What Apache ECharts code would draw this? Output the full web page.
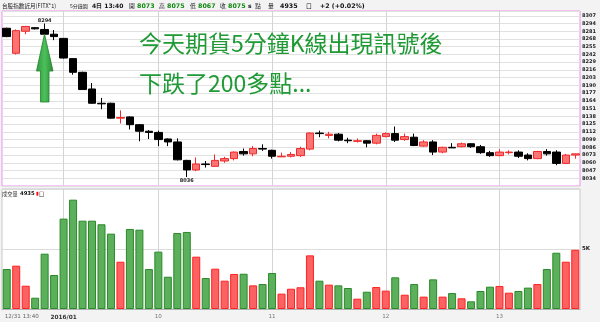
<!DOCTYPE html>
<html><head><meta charset="utf-8">
<script src="https://cdn.jsdelivr.net/npm/echarts@6/dist/echarts.min.js"></script>
<style>html,body{margin:0;padding:0;background:#f3f3f3}#c{width:600px;height:322px}</style>
</head><body><div id="c"></div>
<script>
// OHLC values
const opens  = [8286,8244,8281,8287,8284,8276,8269,8235,8212,8184,8160,8160,8135,8137,8124,8113,8111,8100,8095,8064,8048,8058,8054,8063,8067,8079,8075,8084,8081,8070,8071,8072,8083,8110,8106,8108,8098,8096,8097,8093,8104,8109,8099,8103,8088,8095,8078,8086,8087,8092,8087,8077,8072,8077,8078,8073,8067,8079,8078,8059,8073];
const closes = [8272,8282,8289,8285,8276,8272,8236,8212,8183,8160,8159,8135,8136,8124,8113,8111,8099,8095,8065,8048,8058,8057,8064,8067,8078,8075,8084,8083,8071,8071,8074,8084,8110,8109,8108,8098,8097,8097,8093,8106,8109,8098,8104,8089,8095,8078,8086,8085,8092,8087,8077,8072,8078,8078,8071,8067,8079,8075,8059,8073,8075];
const lows   = [8271,8242,8276,8284,8275,8266,8235,8208,8183,8159,8150,8134,8126,8116,8096,8100,8088,8088,8064,8036,8046,8052,8054,8060,8064,8072,8071,8080,8067,8070,8069,8070,8081,8103,8101,8096,8093,8094,8086,8091,8103,8095,8097,8088,8087,8073,8076,8085,8086,8085,8075,8070,8071,8074,8068,8064,8066,8072,8056,8058,8067];
const highs  = [8287,8284,8290,8288,8294,8283,8269,8236,8213,8194,8169,8161,8148,8138,8125,8115,8114,8101,8101,8065,8069,8063,8074,8070,8079,8084,8088,8091,8082,8077,8078,8087,8111,8114,8112,8110,8102,8101,8098,8109,8111,8121,8109,8109,8098,8098,8087,8093,8094,8093,8090,8080,8083,8081,8081,8076,8080,8083,8081,8075,8075];
const volumes = [3330,3610,1940,940,4610,2830,7530,9110,7360,7360,7060,6280,3940,6670,6610,3330,4780,2690,6330,6420,4360,2580,3360,2360,2920,2940,1970,2080,3000,1280,1690,1810,4470,2360,2030,1970,1750,860,1440,1830,1530,2640,1190,2080,1030,2470,1030,1330,890,640,1500,1860,1920,1360,1500,1780,2080,3330,4690,3940,4935];
const tickIndex = [0,6,16,28,40,52];
const tickText  = ['12/31 13:40','2016/01','10','11','12','13'];
const priceLabels = [8034,8307]; // axis label range (step 13)
const categories = opens.map((_, i) => 'k' + i);

const chart = echarts.init(document.getElementById('c'), null, {renderer:'canvas'});
const NUM = 'DejaVu Sans';
const CJK = '"Noto Sans CJK TC"';
const G = '#118a11';

const tickLabelOf = i => { const p = tickIndex.indexOf(i); return p < 0 ? '' : tickText[p]; };
function txt(x, y, text, size, opt) {
  opt = opt || {};
  return {type:'text', x:x, y:y, silent:true, z:20,
    style:{text:text, fontFamily:opt.font || CJK, fontSize:size, fontWeight:opt.bold ? 'bold' : 'normal',
           fill:opt.color || '#222', verticalAlign:'middle', align:'left'}};
}

chart.setOption({
  animation:false,
  backgroundColor:'#f3f3f3',
  grid:[
    {left:2, right:20, top:11, height:175, show:true, backgroundColor:'#fff', borderColor:'#ef8ef0', borderWidth:1},
    {left:2, right:20, top:189, height:120, show:true, backgroundColor:'#fff', borderColor:'#c8c8c8', borderWidth:1}
  ],
  xAxis:[
    {type:'category', gridIndex:0, data:categories, boundaryGap:true,
     axisLine:{show:false}, axisTick:{show:false}, axisLabel:{show:false}, splitLine:{show:false}},
    {type:'category', gridIndex:1, data:categories, boundaryGap:true,
     axisLine:{show:true, lineStyle:{color:'#b0b0b0'}}, axisTick:{show:false}, splitLine:{show:false},
     axisLabel:{interval:(i) => tickIndex.indexOf(i) >= 0, margin:5, fontFamily:NUM, fontSize:5.6, color:'#777',
       formatter:(v, i) => { const t = tickLabelOf(i); if (i === 0) return '{f|' + t + '}'; if (i === tickIndex[1]) return '{b|' + t + '}'; return t; },
       rich:{f:{padding:[0,0,0,30], fontFamily:NUM, fontSize:5.6, color:'#666'}, b:{fontFamily:NUM, fontSize:5.8, fontWeight:'bold', color:'#333'}}}}
  ],
  yAxis:[
    {type:'value', gridIndex:0, position:'right', min:8021, max:8315, interval:13,
     axisLine:{show:false}, axisTick:{show:false},
     axisLabel:{showMinLabel:false, showMaxLabel:false, margin:2, fontFamily:NUM, fontSize:5, fontWeight:'bold', color:'#222',
       formatter:v => (v >= priceLabels[0] && v <= priceLabels[1]) ? String(v) : ''},
     splitLine:{lineStyle:{color:'#e1e1e1', width:1}}},
    {type:'value', gridIndex:1, position:'right', min:0, max:10000, interval:5000,
     axisLine:{show:false}, axisTick:{show:false},
     axisLabel:{margin:2, fontFamily:NUM, fontSize:5.5, fontWeight:'bold', color:'#222', formatter:v => v === 5000 ? '5K' : ''},
     splitLine:{lineStyle:{color:'#dcdcdc', width:1}}}
  ],
  series:[
    {type:'candlestick', xAxisIndex:0, yAxisIndex:0, barWidth:8, z:3,
     data: opens.map((o, i) => [o, closes[i], lows[i], highs[i]]),
     itemStyle:{color:'#fb7474', color0:'#000', borderColor:'#f02a2a', borderColor0:'#000', borderWidth:1},
     markPoint:{symbol:'rect', symbolSize:0, silent:true, z:6,
       label:{show:true, position:'inside', fontFamily:NUM, fontSize:5, fontWeight:'bold', color:'#222', formatter:p => String(p.value)},
       data:[{type:'max', valueDim:'highest', label:{offset:[0,-3]}}, {type:'min', valueDim:'lowest', label:{offset:[0,4]}}]},
     markLine:{silent:true, z:1, symbol:'none', label:{show:false}, lineStyle:{color:'#d4d4d4', width:1, type:'solid'},
       data: tickIndex.slice(1).map(i => ({xAxis: categories[i]}))}},
    {type:'bar', xAxisIndex:1, yAxisIndex:1, barWidth:8, z:3,
     data: volumes.map((v, i) => ({value:v, itemStyle: closes[i] >= opens[i]
        ? {color:'#fd6262', borderColor:'#f22', borderWidth:1}
        : {color:'#5cb05c', borderColor:'#2a8a2a', borderWidth:1}})),
     markLine:{silent:true, z:1, symbol:'none', label:{show:false}, lineStyle:{color:'#d4d4d4', width:1, type:'solid'},
       data: tickIndex.slice(1).map(i => ({xAxis: categories[i]}))}}
  ],
  graphic:[
    // header line
    txt(2, 6, '台股指數近月(FITX*1)', 5.6),
    txt(70, 6, '5分鐘圖', 5),
    txt(92, 6, '4日 13:40', 6, {font:NUM, bold:true, color:'#111'}),
    txt(129, 6, '開', 5.8),
    txt(137, 6, '8073', 6.3, {font:NUM, bold:true, color:G}),
    txt(159, 6, '高', 5.8),
    txt(167, 6, '8075', 6.3, {font:NUM, bold:true, color:G}),
    txt(190, 6, '低', 5.8),
    txt(198, 6, '8067', 6.3, {font:NUM, bold:true, color:G}),
    txt(220, 6, '收', 5.8),
    txt(228, 6, '8075', 6.3, {font:NUM, bold:true, color:G}),
    txt(248, 6, 's', 6, {font:NUM, bold:true, color:'#111'}),
    txt(255, 6, '點', 5.8),
    txt(268, 6, '量', 5.8),
    txt(280, 6, '4935', 6.3, {font:NUM, bold:true, color:'#111'}),
    txt(306, 6, '口', 5.8),
    txt(320, 6, '+2 (+0.02%)', 6.3, {font:NUM, bold:true, color:'#111'}),
    // volume panel title
    txt(2, 194, '成交量', 5.2, {color:'#333'}),
    txt(20, 194, '4935', 5.3, {font:NUM, bold:true, color:'#111'}),
    txt(36, 194, '▮', 5, {font:NUM, color:'#f00'}),
    txt(39, 194, '口', 5.2, {color:'#333'}),
    // annotation
    {type:'polygon', silent:true, z:10,
     shape:{points:[[44.5,34],[53,71],[49,71],[49,102],[40.5,102],[40.5,71],[36.5,71]]},
     style:{fill:new echarts.graphic.LinearGradient(0,0,1,0,[{offset:0,color:'#2f9a3c'},{offset:0.5,color:'#4cc05a'},{offset:1,color:'#2a8a36'}]), stroke:'#23802f', lineWidth:0.8}},
    {type:'text', left:139, top:32, z:10, silent:true,
     style:{text:'今天期貨5分鐘K線出現訊號後', fontFamily:CJK, fontSize:23, fill:'#1f9a35'}},
    {type:'text', left:139, top:72, z:10, silent:true,
     style:{text:'下跌了200多點...', fontFamily:CJK, fontSize:23, fill:'#1f9a35'}}
  ]
});
</script></body></html>
